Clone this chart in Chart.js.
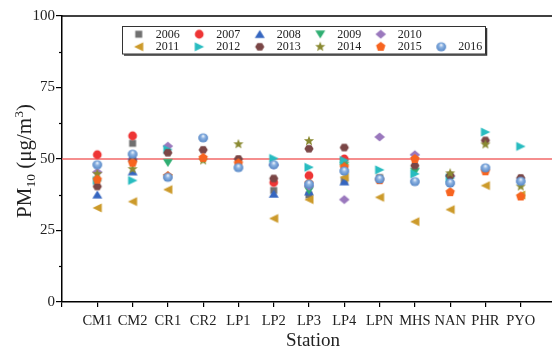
<!DOCTYPE html>
<html><head><meta charset="utf-8">
<script src="https://cdn.jsdelivr.net/npm/chart.js@4"></script>
<style>
html,body{margin:0;padding:0;background:#fff;overflow:hidden;width:552px;height:351px}
#wrap{width:562px;height:351px}
canvas{display:block}
</style></head>
<body><div id="wrap"><canvas id="c" width="562" height="351"></canvas></div>
<script>
// ---- data ----
const stations = ['CM1','CM2','CR1','CR2','LP1','LP2','LP3','LP4','LPN','MHS','NAN','PHR','PYO'];
const years = ['2006','2007','2008','2009','2010','2011','2012','2013','2014','2015','2016'];
const v2006 = [null, 55.5, null, null, null, 39.0, 37.4, 42.5, 43.5, null, null, null, null];
const v2007 = [51.5, 58.1, null, null, null, 41.8, 44.2, 50.0, null, null, null, null, null];
const v2008 = [37.5, 45.6, null, null, null, 37.8, 38.6, 42.1, null, null, null, null, null];
const v2009 = [null, null, 48.7, null, null, null, 39.0, 47.7, null, 45.6, null, null, null];
const v2010 = [45.4, 50.0, 54.5, null, null, 47.9, 40.5, 35.8, 57.7, 51.5, 44.0, null, null];
const v2011 = [32.9, 35.1, 39.3, null, null, 29.2, 35.8, 43.6, 36.6, 28.1, 32.3, 40.7, 37.4];
const v2012 = [42.5, 42.5, 53.3, null, null, 50.2, 47.1, 49.5, 46.2, 44.8, 43.4, 59.4, 54.4];
const v2013 = [40.4, 49.5, 52.2, 53.2, 50.0, 43.2, 53.6, 54.0, null, 47.7, 44.2, 56.5, 43.4];
const v2014 = [44.8, 46.5, 44.0, 49.5, 55.2, null, 56.3, 47.5, null, null, 45.0, 55.1, 40.4];
const v2015 = [42.8, 48.7, 44.0, 50.4, 48.5, null, 41.5, 47.1, 42.6, 50.0, 38.4, 45.7, 36.9];
const v2016 = [48.0, 51.7, 43.6, 57.4, 47.0, 48.0, 41.2, 45.8, 43.0, 42.1, 41.6, 46.9, 42.2];
const seriesValues = [v2006,v2007,v2008,v2009,v2010,v2011,v2012,v2013,v2014,v2015,v2016];
const limitValue = 50;
const yMin = 0, yMax = 100, yStep = 25;
const xMin = 0, xMax = 14;

// ---- styles ----
const colors = ['#707070','#ee3535','#3566c0','#2fae72','#9a78bd','#cc9a2a','#28bcc0','#7a4646','#8a8a32','#f76420','#5f95d4'];
const shapes = ['square','circle','up','down','diamond','left','right','hexagon','star','pentagon','sphere'];

function poly(g, pts){ g.moveTo(pts[0][0],pts[0][1]); for(let i=1;i<pts.length;i++) g.lineTo(pts[i][0],pts[i][1]); g.closePath(); }
function regular(n, r, start){ const p=[]; for(let k=0;k<n;k++){const a=(start+k*360/n)*Math.PI/180; p.push([r*Math.cos(a), r*Math.sin(a)]);} return p; }
function makeMarker(shape, color){
  const s = 12, c = document.createElement('canvas'); c.width = s; c.height = s;
  const g = c.getContext('2d'); g.translate(s/2, s/2);
  g.fillStyle = color; g.beginPath();
  switch(shape){
    case 'square': g.rect(-3.5,-3.5,7,7); break;
    case 'circle': g.arc(0,0,4.4,0,Math.PI*2); break;
    case 'up': poly(g,[[0,-4.3],[5,3.7],[-5,3.7]]); break;
    case 'down': poly(g,[[0,4.3],[5,-3.7],[-5,-3.7]]); break;
    case 'left': poly(g,[[-4.7,0],[4.5,-4.6],[4.5,4.6]]); break;
    case 'right': poly(g,[[4.9,0],[-4.5,-4.4],[-4.5,4.4]]); break;
    case 'diamond': poly(g,[[0,-4.6],[5.3,0],[0,4.6],[-5.3,0]]); break;
    case 'hexagon': poly(g, regular(6,4.6,0).map(p=>[p[0],p[1]*0.92])); break;
    case 'star': { const p=[]; for(let k=0;k<10;k++){const a=(-90+k*36)*Math.PI/180; const r=k%2?2.3:5.3; p.push([r*Math.cos(a), r*Math.sin(a)]);} poly(g,p); break; }
    case 'pentagon': poly(g, regular(5,4.9,-90)); break;
    case 'sphere': {
      const gr = g.createRadialGradient(0,-2,0.3,0,0,5.2);
      gr.addColorStop(0,'#eef4fc'); gr.addColorStop(0.35,'#8db3e2'); gr.addColorStop(1,'#4d80c2');
      g.fillStyle = gr; g.ellipse(0,0,4.9,4.5,0,0,Math.PI*2); break; }
  }
  g.fill();
  return c;
}
const markers = shapes.map((sh,i)=>makeMarker(sh, colors[i]));

const datasets = years.map((yr,i)=>({
  label: yr,
  data: seriesValues[i].map((v,j)=> v==null ? null : {x: j+1, y: v}).filter(p=>p),
  pointStyle: markers[i], pointRadius: 5, pointHoverRadius: 5,
  backgroundColor: colors[i], borderColor: colors[i],
  order: 20 - i
}));
datasets.push({
  type: 'line', label: 'limit',
  data: [{x:xMin, y:limitValue},{x:xMax, y:limitValue}],
  borderColor: '#f26868', borderWidth: 1.5, pointRadius: 0, order: 100
});

const serif = "'Liberation Serif','Times New Roman',serif";

const decor = {
  id: 'decor',
  afterDraw(chart){
    const {ctx, chartArea: a, scales: {x, y}} = chart;
    ctx.save();
    // top frame line
    ctx.strokeStyle = '#000'; ctx.lineWidth = 1.5;
    ctx.beginPath(); ctx.moveTo(a.left, a.top); ctx.lineTo(a.right, a.top); ctx.stroke();
    // minor y ticks
    ctx.lineWidth = 1.2;
    for (let v = yMin + yStep/2; v < yMax; v += yStep){
      const py = Math.round(y.getPixelForValue(v)) + 0.5;
      ctx.beginPath(); ctx.moveTo(a.left - 3, py); ctx.lineTo(a.left, py); ctx.stroke();
    }
    // x title
    ctx.fillStyle = '#222'; ctx.font = '19px ' + serif; ctx.textAlign = 'center'; ctx.textBaseline = 'alphabetic';
    ctx.fillText('Station', 313, 346);
    // y title with sub/superscript
    ctx.translate(23.5, 161); ctx.rotate(-Math.PI/2);
    const parts = [['PM',21,0],['10',13.5,4],[' (\u03bcg/m',21,0],['3',13.5,-8.5],[')',21,0]];
    let total = 0;
    parts.forEach(p=>{ ctx.font = p[1]+'px '+serif; total += ctx.measureText(p[0]).width; });
    let cx = -total/2; ctx.textAlign = 'left';
    parts.forEach(p=>{ ctx.font = p[1]+'px '+serif; ctx.fillText(p[0], cx, 7.5 + p[2]); cx += ctx.measureText(p[0]).width; });
    ctx.restore();
    // legend
    ctx.save();
    const L = 122.5, T = 26.5, W = 363, H = 27.5;
    ctx.fillStyle = '#fff'; ctx.fillRect(L, T, W, H);
    ctx.strokeStyle = '#333'; ctx.lineWidth = 1; ctx.strokeRect(L, T, W, H);
    ctx.lineWidth = 1.5; ctx.beginPath(); ctx.moveTo(L+W+1, T+1.5); ctx.lineTo(L+W+1, T+H+1); ctx.lineTo(L+1.5, T+H+1); ctx.stroke();
    ctx.font = '12px ' + serif; ctx.fillStyle = '#222'; ctx.textBaseline = 'middle'; ctx.textAlign = 'left';
    years.forEach((yr,i)=>{
      const row = i < 5 ? 0 : 1, col = i < 5 ? i : i - 5;
      const mx = 138.7 + 60.5*col, my = row ? 46.8 : 34.2;
      ctx.drawImage(markers[i], mx - 6, my - 6);
      ctx.fillText(yr, mx + 17, my + 0.5);
    });
    ctx.restore();
  }
};

new Chart(document.getElementById('c'), {
  type: 'scatter',
  data: { datasets },
  options: {
    responsive: false, animation: false,
    layout: { padding: { top: 16, right: 1, left: 0, bottom: 0 } },
    plugins: { legend: { display: false }, tooltip: { enabled: false } },
    scales: {
      x: {
        type: 'linear', min: xMin, max: xMax,
        afterFit: s => { s.height = 49; },
        ticks: { stepSize: 1, autoSkip: false, maxRotation: 0, padding: 5, color: '#222',
          font: { family: serif, size: 14.5 },
          callback: v => stations[v-1] || '' },
        grid: { drawOnChartArea: false, drawTicks: true, tickLength: 5, color: '#000', lineWidth: 1.2 },
        border: { display: true, color: '#000', width: 1.5 }
      },
      y: {
        min: yMin, max: yMax,
        afterFit: s => { s.width = 62; },
        ticks: { stepSize: yStep, padding: 1, color: '#222', font: { family: serif, size: 15 } },
        grid: { drawOnChartArea: false, drawTicks: true, tickLength: 6, color: '#000', lineWidth: 1.2 },
        border: { display: true, color: '#000', width: 1.5 }
      }
    }
  },
  plugins: [decor]
});
</script>
</body></html>
